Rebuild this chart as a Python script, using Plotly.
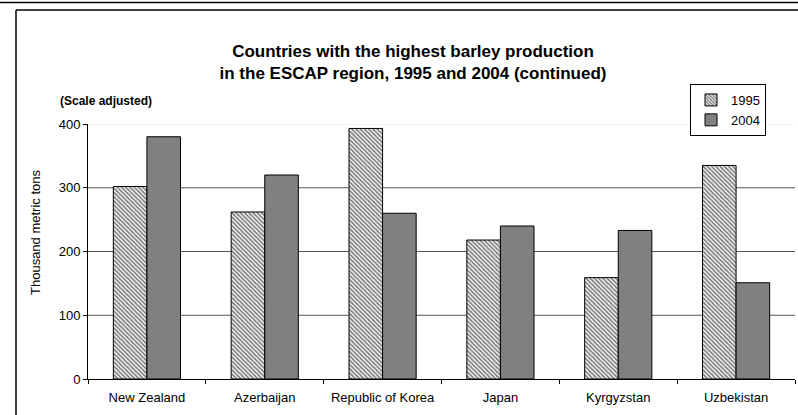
import plotly.graph_objects as go

countries = ["New Zealand", "Azerbaijan", "Republic of Korea", "Japan", "Kyrgyzstan", "Uzbekistan"]
values_1995 = [302, 262, 393, 218, 159, 335]
values_2004 = [380, 320, 260, 240, 233, 151]
y_ticks = [0, 100, 200, 300, 400]

W, H = 798, 415
L, R, T, B = 88, 3, 124, 36
PW, PH = W - L - R, H - T - B

def px_x(p):
    return (p - L) / PW

def px_y(p):
    return 1 - (p - T) / PH

fig = go.Figure()
fig.add_trace(go.Bar(
    name="1995", x=countries, y=values_1995,
    marker=dict(color="white", line=dict(color="black", width=1),
                pattern=dict(shape="\\", size=3, solidity=0.45, fgcolor="#6e6e6e", bgcolor="#f0f0f0",
                             fillmode="replace")),
))
fig.add_trace(go.Bar(
    name="2004", x=countries, y=values_2004,
    marker=dict(color="#808080", line=dict(color="black", width=1)),
))

font = "Liberation Sans, Arial, sans-serif"
shapes = []
# gridlines from tick values
for v in y_ticks[1:]:
    shapes.append(dict(type="line", xref="paper", yref="y", x0=0, x1=1, y0=v, y1=v,
                       line=dict(color="#e6e6e6" if v == y_ticks[-1] else "#555555", width=1),
                       layer="below"))
# chart frame
shapes.append(dict(type="line", xref="paper", yref="paper", x0=px_x(0), x1=px_x(W + 5),
                   y0=px_y(2.5), y1=px_y(2.5), line=dict(color="black", width=1.5)))
shapes.append(dict(type="line", xref="paper", yref="paper", x0=px_x(16), x1=px_x(W + 5),
                   y0=px_y(10), y1=px_y(10), line=dict(color="black", width=1.5)))
shapes.append(dict(type="line", xref="paper", yref="paper", x0=px_x(16), x1=px_x(16),
                   y0=px_y(10), y1=px_y(H + 5), line=dict(color="black", width=1.5)))

fig.update_layout(
    width=W, height=H,
    margin=dict(l=L, r=R, t=T, b=B),
    paper_bgcolor="white", plot_bgcolor="white",
    font=dict(family=font, size=13, color="black"),
    barmode="group", bargap=0.43, bargroupgap=0,
    title=dict(text="<b>Countries with the highest barley production<br>in the ESCAP region, 1995 and 2004 (continued)</b>",
               x=413 / W, xanchor="center", xref="container",
               y=1 - 57 / H, yanchor="middle", yref="container",
               font=dict(family=font, size=17, color="black")),
    xaxis=dict(showline=True, linecolor="black", linewidth=1, ticks="outside", tickson="boundaries",
               ticklen=4, tickcolor="black", showgrid=False, ticklabelstandoff=6,
               tickfont=dict(size=13)),
    yaxis=dict(range=[0, 400], tickvals=y_ticks, showline=True, linecolor="black", linewidth=1,
               ticks="outside", ticklen=4, tickcolor="black", showgrid=False, zeroline=False,
               tickfont=dict(size=13)),
    legend=dict(x=px_x(766), xanchor="right", y=px_y(84), yanchor="top",
                bordercolor="black", borderwidth=1, bgcolor="white",
                font=dict(size=13), itemwidth=30, tracegroupgap=0),
    shapes=shapes,
    annotations=[
        dict(text="<b>(Scale adjusted)</b>", xref="paper", yref="paper", x=px_x(58), y=px_y(101),
             xanchor="left", yanchor="middle", showarrow=False, font=dict(size=12)),
        dict(text="Thousand metric tons", xref="paper", yref="paper", x=px_x(35), y=px_y(232),
             xanchor="center", yanchor="middle", textangle=-90, showarrow=False, font=dict(size=13)),
    ],
)

fig.write_html("out.html", config={"displayModeBar": False},
               post_script="document.body.style.margin='0px';document.body.style.overflow='hidden';")
